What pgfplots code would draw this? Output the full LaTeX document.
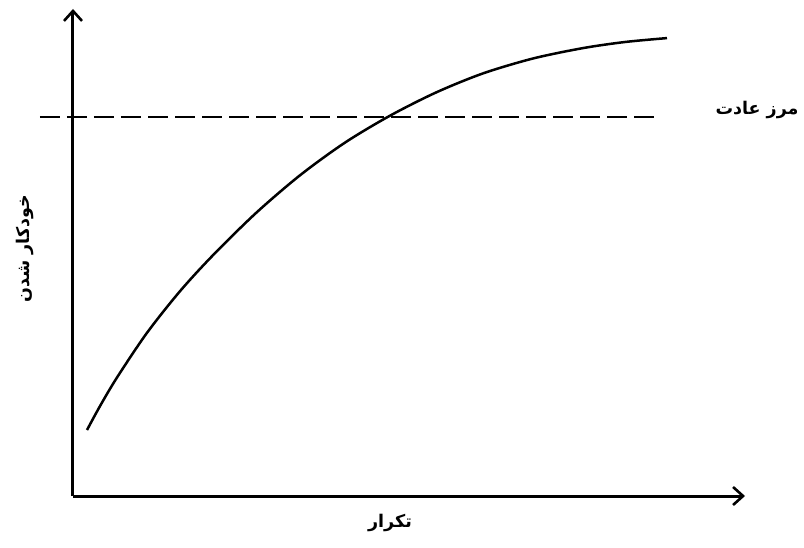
\documentclass[border=0pt]{standalone}
\usepackage{pgfplots}
\pgfplotsset{compat=1.18}
\usetikzlibrary{arrows.meta}
\usepackage{fontspec}
\TeXXeTstate=1
\newfontfamily\arabicfont[Script=Arabic]{DejaVu Sans}
\begin{document}
\begin{tikzpicture}
\begin{axis}[
  x=1pt, y=1pt,
  xmin=73, xmax=745, ymin=51, ymax=538,
  enlargelimits=false,
  axis lines=left,
  axis line style={line width=3pt, -{Straight Barb[length=10pt,width=18pt,line width=2.6pt]}},
  xtick=\empty, ytick=\empty,
  clip=false,
]
\path (axis cs:0,0) rectangle (axis cs:804,547);
\addplot[black, line width=2.8pt, dash pattern=on 20pt off 7pt] coordinates {(40,430) (657,430)};
\addplot[black, line width=2.5pt, smooth] coordinates {
(87,117) (100,140.9) (117,169.5) (147,214.2) (180,255.8) (213,291.8) (256,334.0)
(300,371.7) (345,404.4) (390,431.3) (436,454.5) (483,473.6) (533,488.5)
(583,498.9) (625,505.0) (667,508.9)};
\node at (axis cs:757,437) {\arabicfont\bfseries\fontsize{17.5}{20}\selectfont\beginR مرز عادت\endR};
\node at (axis cs:390,24) {\arabicfont\bfseries\fontsize{17.5}{20}\selectfont\beginR تکرار\endR};
\node[rotate=90] at (axis cs:25,298) {\arabicfont\bfseries\fontsize{17.5}{20}\selectfont\beginR خودکار شدن\endR};
\end{axis}
\end{tikzpicture}
\end{document}
